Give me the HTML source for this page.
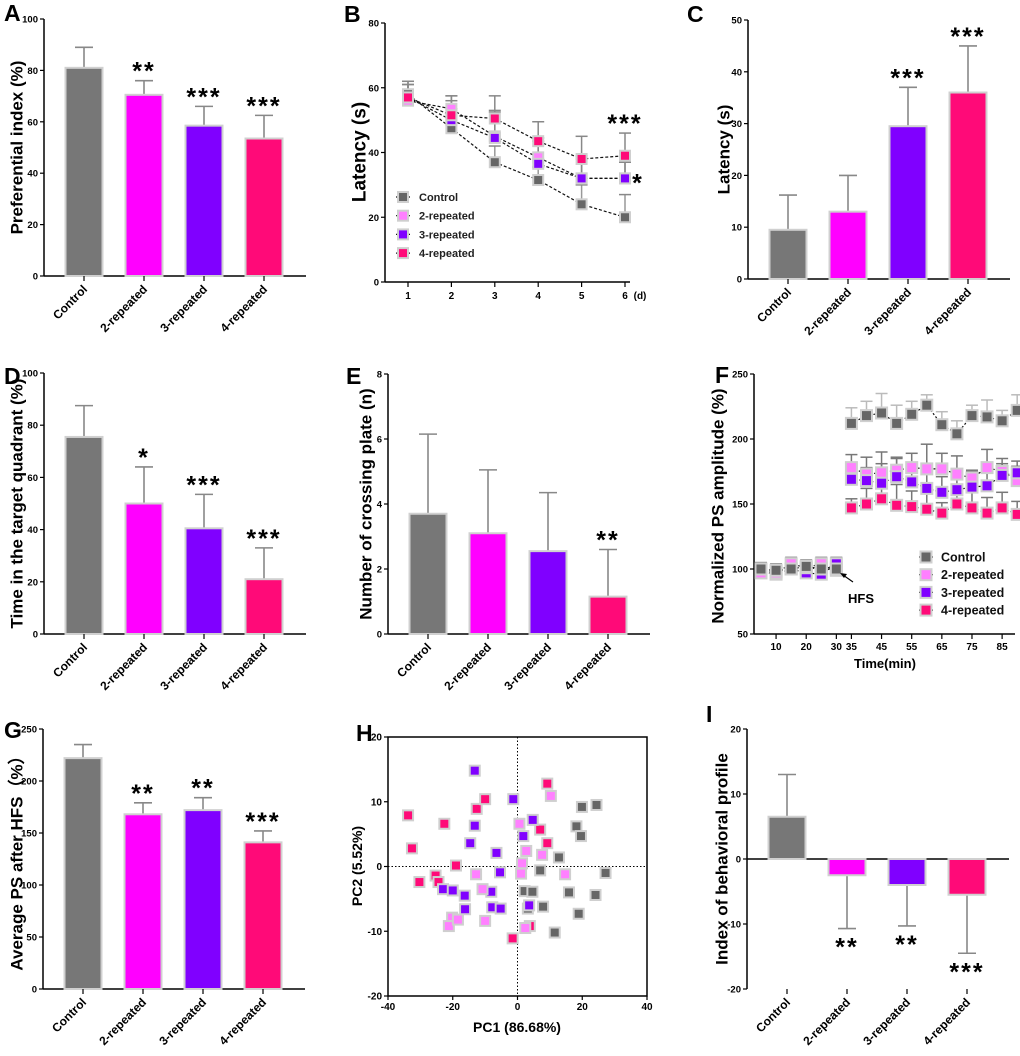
<!DOCTYPE html>
<html><head><meta charset="utf-8"><style>
html,body{margin:0;padding:0;background:#fff;}
svg{display:block;font-family:"Liberation Sans",Arial,sans-serif;}
</style></head><body>
<svg id="fig" width="1020" height="1056" viewBox="0 0 1020 1056" xmlns="http://www.w3.org/2000/svg"></svg>
<script>
const groups = ["Control","2-repeated","3-repeated","4-repeated"];
const colors = ["#777777","#ff00ff","#8000ff","#ff0a78"];
const lineColors = ["#666666","#ff80ff","#8000ff","#ff0a78"];
// A
const aValues = [81, 70.5, 58.5, 53.5];
const aErrors = [8, 5.5, 7.5, 9];
const aStars = ["", "**", "***", "***"];
const aTicks = [0,20,40,60,80,100];
// C
const cValues = [9.5, 13, 29.5, 36];
const cErrors = [6.7, 7, 7.5, 9];
const cStars = ["", "", "***", "***"];
const cTicks = [0,10,20,30,40,50];
// D
const dValues = [75.5, 50, 40.5, 21];
const dErrors = [12, 14, 13, 12];
const dStars = ["", "*", "***", "***"];
const dTicks = [0,20,40,60,80,100];
// E
const eValues = [3.7, 3.1, 2.55, 1.15];
const eErrors = [2.45, 1.95, 1.8, 1.45];
const eStars = ["", "", "", "**"];
const eTicks = [0,2,4,6,8];
// G
const gValues = [222, 168, 172, 141];
const gErrors = [13, 11, 12, 11];
const gStars = ["", "**", "**", "***"];
const gTicks = [0,50,100,150,200,250];
// I
const iValues = [6.5, -2.5, -4, -5.5];
const iErrors = [6.5, 8.2, 6.3, 9];
const iStars = ["", "**", "**", "***"];
const iTicks = [-20,-10,0,10,20];
// B
const bDays = [1,2,3,4,5,6];
const bControl = [58, 47.5, 37, 31.5, 24, 20];
const bRep2 = [56, 53.5, 45, 38.5, 32, 32];
const bRep3 = [57, 50, 44.5, 36.5, 32, 32];
const bRep4 = [57, 51.5, 50.5, 43.5, 38, 39];
const bErrControl = [4, 6, 5, 4, 6, 7];
const bErrRep2 = [5, 4, 8, 6, 7, 5];
const bErrRep3 = [4, 6, 8, 7, 6, 5];
const bErrRep4 = [5, 6, 7, 6, 7, 7];
const bTicks = [0,20,40,60,80];
// F
const fPreTimes = [5,10,15,20,25,30];
const fPreControl = [100, 99, 100, 102, 100, 100];
const fPreRep2 = [97, 97, 104, 101, 104, 99];
const fPreRep3 = [99, 98, 100, 97, 96, 104];
const fPreRep4 = [98, 96, 100, 100, 101, 101];
const fPostTimes = [35,40,45,50,55,60,65,70,75,80,85,90];
const fControl = [212,218,220,212,219,226,211,204,218,217,214,222];
const fRep2 = [178,173,174,176,178,177,177,173,170,178,175,168];
const fRep3 = [169,168,166,171,167,162,159,161,163,164,172,174];
const fRep4 = [147,150,154,149,148,146,143,150,147,143,147,142];
const fErrControl = [12,11,15,14,10,8,10,10,8,13,8,12];
const fErrRep2 = [10,13,16,10,11,19,12,14,6,14,10,15];
const fErrRep3 = [10,10,15,14,14,18,12,10,12,12,9,5];
const fErrRep4 = [7,12,10,16,12,12,8,10,14,12,12,10];
const fTickLabels = [10,20,30,35,45,55,65,75,85];
const fYTicks = [50,100,150,200,250];
// H
const hControlX = [19.9,24.4,18.2,19.6,12.8,7,27.2,2.2,4.6,3.2,7.9,15.9,24.1,18.9,11.5];
const hControlY = [9.2,9.5,6.2,4.7,1.4,-0.6,-1,-3.8,-3.9,-6.5,-6.2,-4,-4.4,-7.3,-10.2];
const hRep2X = [10.3,0.6,2.7,7.6,1.4,1.1,14.7,-12.8,-10.8,-10,-20.2,-21.2,-18.4,2.4];
const hRep2Y = [10.9,6.6,2.4,1.8,0.5,-1.1,-1.2,-1.2,-3.5,-8.4,-7.9,-9.2,-8.2,-9.5];
const hRep3X = [-13.2,-1.3,-13.2,-14.6,-6.5,-5.4,4.7,1.8,-23,-20,-16.3,-16.2,-8.1,-7.8,-5.2,3.6];
const hRep3Y = [14.8,10.4,6.3,3.6,2.1,-0.9,7.2,4.7,-3.5,-3.7,-4.5,-6.6,-3.9,-6.3,-6.5,-6];
const hRep4X = [-33.8,-32.6,-30.3,-25.3,-24.4,-22.6,-19,-12.6,-10,9.2,7,9.2,-1.5,3.8];
const hRep4Y = [7.9,2.8,-2.4,-1.4,-2.4,6.6,0.15,8.9,10.4,12.8,5.7,3.6,-11.1,-9.2];
const hTicksX = [-40,-20,0,20,40];
const hTicksY = [-20,-10,0,10,20];

const NS = "http://www.w3.org/2000/svg";
const svg = document.getElementById("fig");
function mk(tag, attrs, parent){
  const e = document.createElementNS(NS, tag);
  for (const k in attrs) e.setAttribute(k, attrs[k]);
  (parent||svg).appendChild(e);
  return e;
}
function txt(s, attrs, parent){ const e = mk("text", attrs, parent); e.textContent = s; return e; }
function grp(name){
  const g = mk("g", {});
  
  
  return g;
}
function letter(s, x, y){
  const t = txt(s, {x:x, y:y, "font-size":23, "font-weight":"bold", fill:"#000"});
  
  
}
function yTitle(s, x, y, size, g){
  const t = txt(s, {x:x, y:y, "font-size":size||17, "font-weight":"bold", "text-anchor":"middle", transform:`rotate(-90 ${x} ${y})`, "dominant-baseline":"central"}, g);
  
  
}
function yAxis(g, x0, yTop, yBot, ticks, min, max){
  const sy = v => yBot - (v - min) / (max - min) * (yBot - yTop);
  const ax = mk("line", {x1:x0, y1:yTop, x2:x0, y2:yBot, stroke:"#000", "stroke-width":1.5}, g);
  
  
  ticks.forEach(t => {
    mk("line", {x1:x0-4, y1:sy(t), x2:x0, y2:sy(t), stroke:"#000", "stroke-width":1.2}, g);
    const l = txt(String(t), {x:x0-6, y:sy(t)+3.5, "font-size":9.5, "font-weight":"bold", "text-anchor":"end"}, g);
    
    
  });
  return sy;
}
function barPanel(o){
  const g = grp(o.name);
  const sy = yAxis(g, o.x0, o.yTop, o.yBot, o.ticks, o.min, o.max);
  const base = sy(Math.max(o.min, 0));
  const xa = mk("line", {x1:o.x0, y1:base, x2:o.x0+262, y2:base, stroke:"#000", "stroke-width":1.5}, g);
  
  
  o.vals.forEach((v, i) => {
    const cx = o.x0 + 40 + 60 * i;
    const top = sy(v);
    const errEnd = v >= 0 ? sy(v + o.errs[i]) : sy(v - o.errs[i]);
    const el = mk("line", {x1:cx, y1:top, x2:cx, y2:errEnd, stroke:"#888", "stroke-width":1.6}, g);
    
    
    mk("line", {x1:cx-9, y1:errEnd, x2:cx+9, y2:errEnd, stroke:"#888", "stroke-width":1.6}, g);
    const r = mk("rect", {x:cx-18.5, y:Math.min(top, base), width:37, height:Math.abs(base-top), fill:colors[i], stroke:"#d0d0d0", "stroke-width":2}, g);
    
    
    mk("line", {x1:cx, y1:o.catY, x2:cx, y2:o.catY+5, stroke:"#000", "stroke-width":1.2}, g);
    const cl = txt(groups[i], {x:cx+4, y:o.catY+14, "font-size":12, "font-weight":"bold", "text-anchor":"end", transform:`rotate(-45 ${cx+4} ${o.catY+14})`}, g);
    
    
    if (o.stars[i]) {
      const sb = v >= 0 ? errEnd - 1 : errEnd + 27;
      const st = txt(o.stars[i], {x:cx, y:sb, "font-size":25, "font-weight":"bold", "text-anchor":"middle", "letter-spacing":"2"}, g);
      
      
    }
  });
  yTitle(o.title, o.titleX, (o.yTop+o.yBot)/2 + (o.titleDy||0), 17, g);
}
barPanel({name:"panel-a", x0:44, yTop:19, yBot:276, min:0, max:100, ticks:aTicks, vals:aValues, errs:aErrors, stars:aStars, catY:276, title:"Preferential index (%)", titleX:17});
barPanel({name:"panel-c", x0:748, yTop:20, yBot:279, min:0, max:50, ticks:cTicks, vals:cValues, errs:cErrors, stars:cStars, catY:279, title:"Latency (s)", titleX:724});
barPanel({name:"panel-d", x0:44, yTop:373, yBot:634, min:0, max:100, ticks:dTicks, vals:dValues, errs:dErrors, stars:dStars, catY:634, title:"Time in the target quadrant (%)", titleX:17});
barPanel({name:"panel-e", x0:388, yTop:374, yBot:634, min:0, max:8, ticks:eTicks, vals:eValues, errs:eErrors, stars:eStars, catY:634, title:"Number of crossing plate (n)", titleX:366});
barPanel({name:"panel-g", x0:43, yTop:729, yBot:989, min:0, max:250, ticks:gTicks, vals:gValues, errs:gErrors, stars:gStars, catY:989, title:"Average PS after HFS（%）", titleX:17});
barPanel({name:"panel-i", x0:747, yTop:729, yBot:989, min:-20, max:20, ticks:iTicks, vals:iValues, errs:iErrors, stars:iStars, catY:989, title:"Index of  behavioral profile", titleX:722});

// Square marker
function marker(g, x, y, color, name, size){
  const s = size || 11;
  const m = mk("rect", {x:x-s/2, y:y-s/2, width:s, height:s, fill:color, stroke:"#cfcfcf", "stroke-width":2}, g);
  
  
  return m;
}

// Panel B
(function(){
  const g = grp("panel-b");
  const sy = yAxis(g, 385, 23, 282, bTicks, 0, 80);
  const sx = d => 408 + (d - 1) * (625 - 408) / 5;
  const xa = mk("line", {x1:385, y1:282, x2:630, y2:282, stroke:"#000", "stroke-width":1.5}, g);
  
  
  bDays.forEach(d => {
    mk("line", {x1:sx(d), y1:282, x2:sx(d), y2:287, stroke:"#000", "stroke-width":1.2}, g);
    const l = txt(String(d), {x:sx(d), y:299, "font-size":10, "font-weight":"bold", "text-anchor":"middle"}, g);
    
    
  });
  const du = txt("(d)", {x:640, y:299, "font-size":10, "font-weight":"bold", "text-anchor":"middle"}, g);
  
  
  const series = [bControl, bRep2, bRep3, bRep4];
  const errs = [bErrControl, bErrRep2, bErrRep3, bErrRep4];
  series.forEach((s, k) => {
    s.forEach((v, i) => {
      const ex = sx(bDays[i]);
      const e = mk("line", {x1:ex, y1:sy(v), x2:ex, y2:sy(v + errs[k][i]), stroke:k===0?"#999":"#888", "stroke-width":1.5}, g);
      
      
      mk("line", {x1:ex-6, y1:sy(v + errs[k][i]), x2:ex+6, y2:sy(v + errs[k][i]), stroke:"#888", "stroke-width":1.5}, g);
    });
  });
  series.forEach((s, k) => {
    const p = mk("polyline", {points:s.map((v,i)=>sx(bDays[i])+","+sy(v)).join(" "), fill:"none", stroke:"#111", "stroke-width":1.2, "stroke-dasharray":"3,2"}, g);
    
    
  });
  series.forEach((s, k) => s.forEach((v, i) => marker(g, sx(bDays[i]), sy(v), lineColors[k], 'point-' + groups[k].toLowerCase(), 10)));
  const s1 = txt("***", {x:sx(6), y:sy(bRep4[5] + bErrRep4[5]) - 1, "font-size":25, "font-weight":"bold", "text-anchor":"middle", "letter-spacing":"2"}, g);
  
  
  const s2 = txt("*", {x:sx(6)+12, y:sy(bRep2[5]) + 13, "font-size":25, "font-weight":"bold", "text-anchor":"middle"}, g);
  
  
  groups.forEach((n, k) => {
    const ly = 197 + k * 18.7;
    mk("line", {x1:396, y1:ly, x2:411, y2:ly, stroke:"#111", "stroke-width":1.2, "stroke-dasharray":"2,2"}, g);
    marker(g, 403, ly, lineColors[k], 'legend-marker', 10);
    const t = txt(n, {x:419, y:ly+4, "font-size":11, "font-weight":"bold", fill:"#222"}, g);
    
    
  });
  yTitle("Latency (s)", 360, 152, 19, g);
})();

// Panel F
(function(){
  const g = grp("panel-f");
  const sy = yAxis(g, 754, 374, 634, fYTicks, 50, 250);
  const sx = t => 761 + (t - 5) / 5 * 15.07;
  const xa = mk("line", {x1:754, y1:634, x2:1015, y2:634, stroke:"#000", "stroke-width":1.5}, g);
  
  
  fTickLabels.forEach(t => {
    mk("line", {x1:sx(t), y1:634, x2:sx(t), y2:639, stroke:"#000", "stroke-width":1.2}, g);
    const l = txt(String(t), {x:sx(t), y:650, "font-size":10, "font-weight":"bold", "text-anchor":"middle"}, g);
    
    
  });
  const xt = txt("Time(min)", {x:885, y:668, "font-size":13, "font-weight":"bold", "text-anchor":"middle"}, g);
  
  
  const pre = [fPreControl, fPreRep2, fPreRep3, fPreRep4];
  const post = [fControl, fRep2, fRep3, fRep4];
  const perr = [fErrControl, fErrRep2, fErrRep3, fErrRep4];
  pre.forEach((s) => s.forEach((v, i) => {
    const x = sx(fPreTimes[i]);
    mk("line", {x1:x, y1:sy(v), x2:x, y2:sy(v+5), stroke:"#888", "stroke-width":1.4}, g);
    mk("line", {x1:x-6, y1:sy(v+5), x2:x+6, y2:sy(v+5), stroke:"#888", "stroke-width":1.4}, g);
  }));
  post.forEach((s, k) => s.forEach((v, i) => {
    const x = sx(fPostTimes[i]);
    const e = mk("line", {x1:x, y1:sy(v), x2:x, y2:sy(v+perr[k][i]), stroke:k===0?"#bbb":"#777", "stroke-width":1.5}, g);
    
    
    mk("line", {x1:x-6, y1:sy(v+perr[k][i]), x2:x+6, y2:sy(v+perr[k][i]), stroke:k===0?"#bbb":"#777", "stroke-width":1.5}, g);
  }));
  [3,2,1,0].forEach(k => {
    const p1 = mk("polyline", {points:pre[k].map((v,i)=>sx(fPreTimes[i])+","+sy(v)).join(" "), fill:"none", stroke:"#111", "stroke-width":1.2, "stroke-dasharray":"2,2"}, g);
    
    
    pre[k].forEach((v, i) => marker(g, sx(fPreTimes[i]), sy(v), lineColors[k], 'pre-point', 11));
  });
  [0,1,2,3].forEach(k => {
    const p2 = mk("polyline", {points:post[k].map((v,i)=>sx(fPostTimes[i])+","+sy(v)).join(" "), fill:"none", stroke:"#111", "stroke-width":1.2, "stroke-dasharray":"2,2"}, g);
    
    
    post[k].forEach((v, i) => marker(g, sx(fPostTimes[i]), sy(v), lineColors[k], 'point-' + groups[k].toLowerCase(), 11));
  });
  mk("line", {x1:853, y1:582, x2:843, y2:575, stroke:"#000", "stroke-width":1.1}, g);
  mk("path", {d:"M840,573 L847,574 L844,578 Z", fill:"#000"}, g);
  const h = txt("HFS", {x:848, y:603, "font-size":13, "font-weight":"bold", "text-anchor":"start"}, g);
  
  
  groups.forEach((n, k) => {
    const ly = 557 + k * 17.7;
    mk("line", {x1:919, y1:ly, x2:935, y2:ly, stroke:"#111", "stroke-width":1.2, "stroke-dasharray":"2,2"}, g);
    marker(g, 926, ly, lineColors[k], 'legend-marker', 11);
    const t = txt(n, {x:941, y:ly+4.5, "font-size":12.5, "font-weight":"bold", fill:"#111"}, g);
    
    
  });
  yTitle("Normalized PS amplitude (%)", 718, 506, 17, g);
})();

// Panel H
(function(){
  const g = grp("panel-h");
  const L=388, R=647, T=737, B=996;
  const sx = v => L + (v + 40) / 80 * (R - L);
  const sy = v => B - (v + 20) / 40 * (B - T);
  const box = mk("rect", {x:L, y:T, width:R-L, height:B-T, fill:"none", stroke:"#000", "stroke-width":1.5}, g);
  
  
  mk("line", {x1:sx(0), y1:T, x2:sx(0), y2:B, stroke:"#000", "stroke-width":1, "stroke-dasharray":"1.5,2"}, g);
  mk("line", {x1:L, y1:sy(0), x2:R, y2:sy(0), stroke:"#000", "stroke-width":1, "stroke-dasharray":"1.5,2"}, g);
  hTicksX.forEach(t => {
    mk("line", {x1:sx(t), y1:B, x2:sx(t), y2:B+4, stroke:"#000", "stroke-width":1.2}, g);
    const l = txt(String(t), {x:sx(t), y:B+14, "font-size":10, "font-weight":"bold", "text-anchor":"middle"}, g);
    
    
  });
  hTicksY.forEach(t => {
    mk("line", {x1:L-4, y1:sy(t), x2:L, y2:sy(t), stroke:"#000", "stroke-width":1.2}, g);
    const l = txt(String(t), {x:L-6, y:sy(t)+3.5, "font-size":10, "font-weight":"bold", "text-anchor":"end"}, g);
    
    
  });
  const xs = [hControlX, hRep2X, hRep3X, hRep4X];
  const ys = [hControlY, hRep2Y, hRep3Y, hRep4Y];
  [0,3,2,1].forEach(k => xs[k].forEach((x, i) => marker(g, sx(x), sy(ys[k][i]), lineColors[k], 'pca-point-' + groups[k].toLowerCase(), 10)));
  const xt = txt("PC1 (86.68%)", {x:517, y:1032, "font-size":14, "font-weight":"bold", "text-anchor":"middle"}, g);
  
  
  yTitle("PC2 (5.52%)", 357, 866, 14, g);
})();

letter("A", 4, 21); letter("B", 344, 22); letter("C", 687, 22);
letter("D", 4, 384); letter("E", 346, 384); letter("F", 715, 383);
letter("G", 4, 738); letter("H", 356, 741); letter("I", 706, 722);
</script>
</body></html>
